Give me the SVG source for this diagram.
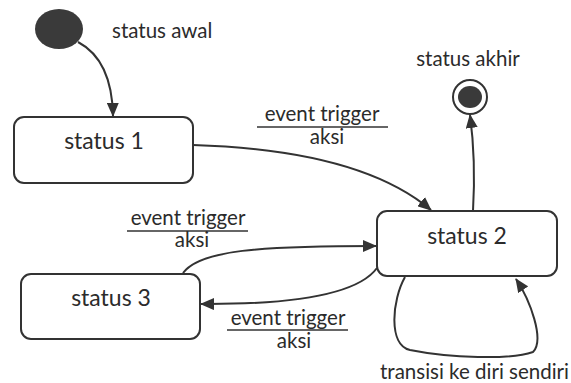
<svg xmlns="http://www.w3.org/2000/svg" width="571" height="383" viewBox="0 0 571 383">
  <style>
    .state { fill: #ffffff; stroke: #333333; stroke-width: 2; }
    .label { font-family: Lato, "Open Sans", sans-serif; font-size: 20.5px; fill: #2b2b2b; }
    .name { font-family: Lato, "Open Sans", sans-serif; font-size: 23px; fill: #2b2b2b; text-anchor: middle; }
    .mid { text-anchor: middle; }
    .edge { fill: none; stroke: #333333; stroke-width: 2; marker-end: url(#head); }
    .rule { stroke: #333333; stroke-width: 1.5; }
  </style>
  <defs>
    <marker id="head" markerUnits="userSpaceOnUse" markerWidth="14" markerHeight="12" viewBox="0 0 14 12" refX="13" refY="6" orient="auto">
      <path d="M0,0 L14,6 L0,12 Z" fill="#333333"/>
    </marker>
  </defs>
  <rect width="571" height="383" fill="#ffffff"/>

  <!-- start pseudo-state -->
  <g id="initial">
    <ellipse cx="59" cy="29" rx="24" ry="20" fill="#3a3a3a"/>
    <text class="label" x="112" y="38">status awal</text>
  </g>

  <!-- end pseudo-state -->
  <g id="final">
    <text class="label mid" x="468" y="66">status akhir</text>
    <circle cx="470" cy="97" r="17" fill="#ffffff" stroke="#333333" stroke-width="2"/>
    <ellipse cx="470" cy="97" rx="12" ry="11" fill="#3a3a3a"/>
  </g>

  <g id="status1">
    <rect class="state" x="14" y="117" width="179" height="66" rx="10"/>
    <text class="name" x="104" y="149">status 1</text>
  </g>

  <g id="status2">
    <rect class="state" x="377" y="211" width="180" height="65" rx="10"/>
    <text class="name" x="467" y="244">status 2</text>
  </g>

  <g id="status3">
    <rect class="state" x="21" y="274" width="179" height="65" rx="10"/>
    <text class="name" x="111" y="306">status 3</text>
  </g>

  <!-- transitions -->
  <g id="connectors">
    <path class="edge" d="M78,42 Q112,60 113,116"/>
    <path class="edge" d="M193,145 Q360,150 431,210"/>
    <path class="edge" d="M473,211 Q476,160 470,115"/>
    <path class="edge" d="M183,273 C200,250 260,246 376,246"/>
    <path class="edge" d="M377,268 Q350,305 201,304"/>
    <path class="edge" d="M405,277 C392,300 388,345 410,350 C450,358 510,360 533,352 C545,340 530,300 516,279"/>
  </g>

  <!-- transition labels -->
  <g id="labels">
    <text class="label mid" x="322" y="121">event trigger</text>
    <line class="rule" x1="257" y1="127" x2="388" y2="127"/>
    <text class="label mid" x="327" y="144">aksi</text>

    <text class="label mid" x="188" y="225">event trigger</text>
    <line class="rule" x1="127" y1="231" x2="248" y2="231"/>
    <text class="label mid" x="192" y="247">aksi</text>

    <text class="label mid" x="288" y="325">event trigger</text>
    <line class="rule" x1="227" y1="330" x2="348" y2="330"/>
    <text class="label mid" x="294" y="348">aksi</text>

    <text class="label" x="380" y="379">transisi ke diri sendiri</text>
  </g>
</svg>
